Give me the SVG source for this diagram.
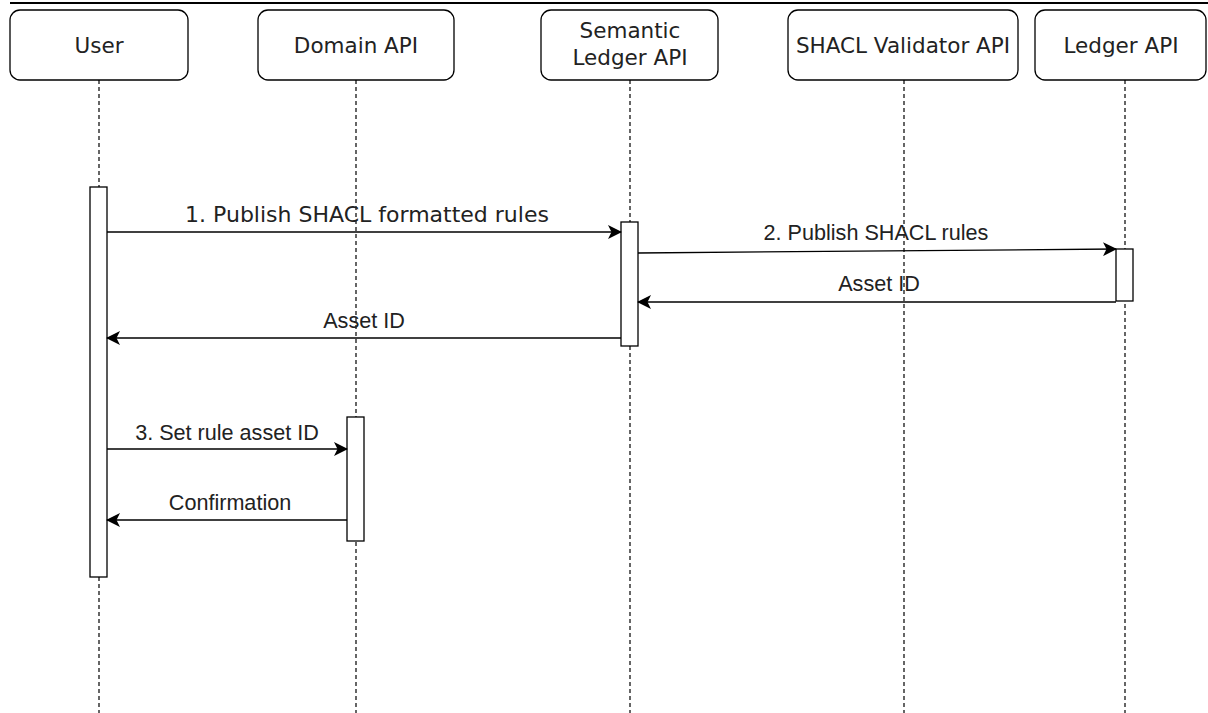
<svg xmlns="http://www.w3.org/2000/svg" width="1208" height="713" viewBox="0 0 1208 713">
<style>
.hdr{fill:#fff;stroke:#000;stroke-width:1.3}
.ht{font-family:"DejaVu Sans",Verdana,sans-serif;font-size:21.5px;fill:#222;text-anchor:middle}
.life{stroke:#000;stroke-width:1.2;stroke-dasharray:4 3;fill:none}
.act{fill:#fff;stroke:#000;stroke-width:1.3}
.msg{stroke:#000;stroke-width:1.3;fill:none}
.lt{font-family:"Liberation Sans",Arial,sans-serif;font-size:21.6px;fill:#222;text-anchor:middle}
.lv{font-family:"DejaVu Sans",Verdana,sans-serif;font-size:22px;fill:#222;text-anchor:middle}
</style>
<defs>
<marker id="ah" markerWidth="16" markerHeight="14" refX="13" refY="7" orient="auto" markerUnits="userSpaceOnUse">
<path d="M0,0 L14,7 L0,14 L3.5,7 Z" fill="#000"/>
</marker>
</defs>
<rect width="1208" height="713" fill="#fff"/>
<line x1="10" y1="3" x2="1208" y2="3" stroke="#000" stroke-width="2"/>
<g id="lifelines">
<line class="life" x1="99" y1="80" x2="99" y2="713"/>
<line class="life" x1="356" y1="80" x2="356" y2="713"/>
<line class="life" x1="630" y1="80" x2="630" y2="713"/>
<line class="life" x1="904" y1="80" x2="904" y2="713"/>
<line class="life" x1="1125" y1="80" x2="1125" y2="713"/>
</g>
<g id="user"><rect class="hdr" x="10" y="10" width="178" height="70" rx="10"/><text class="ht" x="99" y="53">User</text></g>
<g id="domain-api"><rect class="hdr" x="258" y="10" width="196" height="70" rx="10"/><text class="ht" x="356" y="53">Domain API</text></g>
<g id="semantic-ledger-api"><rect class="hdr" x="541" y="10" width="177" height="70" rx="10"/><text class="ht" x="630" y="38">Semantic</text><text class="ht" x="630" y="65">Ledger API</text></g>
<g id="shacl-validator-api"><rect class="hdr" x="788" y="10" width="230" height="70" rx="10"/><text class="ht" x="903" y="53">SHACL Validator API</text></g>
<g id="ledger-api"><rect class="hdr" x="1035" y="10" width="171" height="70" rx="10"/><text class="ht" x="1121" y="53">Ledger API</text></g>
<g id="activations">
<rect class="act" x="90" y="187" width="17" height="390"/>
<rect class="act" x="621" y="222" width="17" height="124"/>
<rect class="act" x="1116" y="249" width="17" height="52"/>
<rect class="act" x="347" y="417" width="17" height="124"/>
</g>
<g id="connectors">
<line class="msg" x1="107" y1="232" x2="621" y2="232" marker-end="url(#ah)"/>
<text class="lv" x="367" y="222">1. Publish SHACL formatted rules</text>
<line class="msg" x1="638" y1="253" x2="1116" y2="249" marker-end="url(#ah)"/>
<text class="lt" x="876" y="240">2. Publish SHACL rules</text>
<line class="msg" x1="1116" y1="302" x2="638" y2="302" marker-end="url(#ah)"/>
<text class="lt" x="879" y="291">Asset ID</text>
<line class="msg" x1="621" y1="338" x2="107" y2="338" marker-end="url(#ah)"/>
<text class="lt" x="364" y="328">Asset ID</text>
<line class="msg" x1="107" y1="449" x2="347" y2="449" marker-end="url(#ah)"/>
<text class="lt" x="227" y="440">3. Set rule asset ID</text>
<line class="msg" x1="347" y1="520" x2="107" y2="520" marker-end="url(#ah)"/>
<text class="lt" x="230" y="510">Confirmation</text>
</g>
</svg>
